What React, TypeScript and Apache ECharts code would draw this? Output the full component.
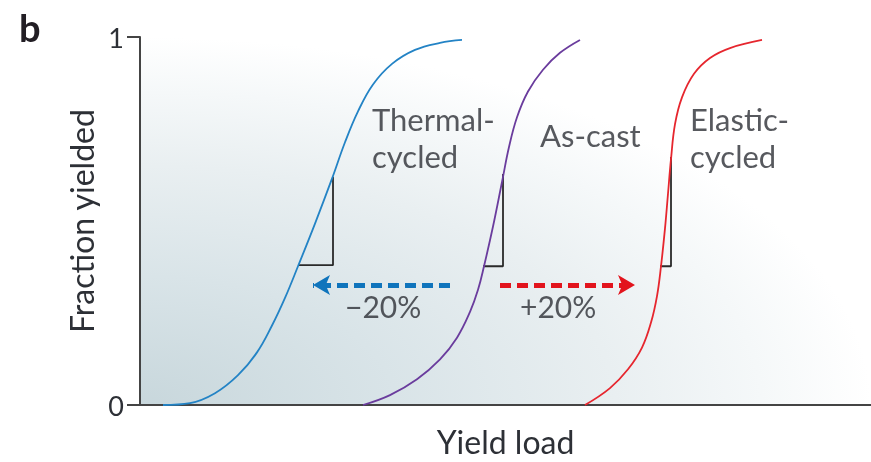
import React, { useEffect, useRef } from "react";
import * as echarts from "echarts";

// x: yield load (arbitrary units), y: fraction yielded (0..1)
const thermalCycled: [number, number][] = [
  [23, 0], [50, 0.005], [75, 0.032], [98, 0.081], [117, 0.143], [132, 0.216],
  [145, 0.291], [158, 0.377], [175, 0.493], [192, 0.615], [205, 0.714],
  [218, 0.798], [233, 0.871], [252, 0.927], [275, 0.965], [300, 0.984], [322, 0.992],
];
const asCast: [number, number][] = [
  [223, 0], [250, 0.027], [277, 0.07], [300, 0.124], [317, 0.183], [330, 0.253],
  [338, 0.313], [344, 0.377], [353, 0.485], [362, 0.606], [369, 0.701],
  [377, 0.782], [388, 0.852], [403, 0.911], [420, 0.957], [440, 0.992],
];
const elasticCycled: [number, number][] = [
  [445, 0], [470, 0.046], [488, 0.097], [502, 0.156], [511, 0.224], [517, 0.296],
  [521, 0.377], [525, 0.48], [528, 0.574], [531, 0.668], [535, 0.763],
  [542, 0.836], [554, 0.9], [570, 0.943], [590, 0.97], [622, 0.992],
];

const slopeThermal: [number, number][] = [[158, 0.38], [193, 0.38], [193, 0.62]];
const slopeAsCast: [number, number][] = [[343, 0.377], [363, 0.377], [363, 0.628]];
const slopeElastic: [number, number][] = [[520, 0.377], [531, 0.377], [531, 0.674]];

const arrowLeft: [number, number][] = [[310, 0.326], [173, 0.326]];
const arrowRight: [number, number][] = [[360, 0.326], [495, 0.326]];

const curveLabels = [
  { name: "Thermal-\ncycled", value: [232, 0.828] },
  { name: "As-cast", value: [400, 0.785] },
  { name: "Elastic-\ncycled", value: [550, 0.828] },
];
const shiftLabels = [
  { name: "\u221220%", value: [205, 0.318] },
  { name: "+20%", value: [380, 0.318] },
];

const xMin = 0;
const xMax = 731;
const yMin = 0;
const yMax = 1;

const FONT = "Lato, 'Open Sans', sans-serif";
const TEXT = "#2d3036";
const AXIS = "#444";
const BLUE = "#2383c5";
const PURPLE = "#6a3c9d";
const RED = "#e6262e";
const ARROW_BLUE = "#0f74bc";
const ARROW_RED = "#e2141d";

export default function App() {
  const ref = useRef<HTMLDivElement>(null);
  useEffect(() => {
    if (!ref.current) return;
    const chart = echarts.init(ref.current, undefined, { renderer: "svg" });
    const curve = (name: string, data: [number, number][], color: string) => ({
      name,
      type: "line",
      data,
      smooth: 0.4,
      showSymbol: false,
      symbol: "none",
      lineStyle: { color, width: 1.8 },
      z: 3,
    });
    const slope = (data: [number, number][]) => ({
      type: "line",
      data,
      showSymbol: false,
      symbol: "none",
      lineStyle: { color: "#2a2a2a", width: 1.8 },
      z: 2,
    });
    const arrow = (data: [number, number][], color: string) => ({
      type: "line",
      data: [],
      markLine: {
        silent: true,
        symbol: ["none", "arrow"],
        symbolSize: [15, 17],
        label: { show: false },
        lineStyle: { color, width: 5, type: [11, 6] },
        emphasis: { disabled: true },
        data: [[{ coord: data[0] }, { coord: data[1] }]],
      },
    });
    const labels = (data: any[], fontSize: number) => ({
      type: "scatter",
      data,
      symbolSize: 0,
      silent: true,
      label: {
        show: true,
        position: [0, 0],
        formatter: "{b}",
        fontFamily: FONT,
        fontSize,
        lineHeight: 37,
        color: TEXT,
        align: "left",
        verticalAlign: "top",
      },
      z: 4,
    });
    chart.setOption({
      animation: false,
      title: {
        text: "b",
        left: 14,
        top: 3,
        textStyle: { fontFamily: FONT, fontSize: 38, fontWeight: "bold", color: "#221e24" },
      },
      grid: {
        left: 140,
        right: 0,
        top: 37,
        bottom: 54,
        show: true,
        borderWidth: 0,
        backgroundColor: new echarts.graphic.RadialGradient(0, 1, 1, [
          { offset: 0, color: "#c8d7dc" },
          { offset: 0.35, color: "#d9e4e8" },
          { offset: 0.65, color: "#e9eff1" },
          { offset: 0.85, color: "#f5f8f9" },
          { offset: 1, color: "#ffffff" },
        ]),
      },
      xAxis: {
        type: "value",
        min: xMin,
        max: xMax,
        name: "Yield load",
        nameLocation: "middle",
        nameGap: 20,
        nameTextStyle: { fontFamily: FONT, fontSize: 32, color: TEXT, verticalAlign: "top" },
        axisLine: { show: true, lineStyle: { color: AXIS, width: 2 } },
        axisTick: { show: false },
        axisLabel: { show: false },
        splitLine: { show: false },
      },
      yAxis: {
        type: "value",
        min: yMin,
        max: yMax,
        interval: 1,
        name: "Fraction yielded",
        nameLocation: "middle",
        nameGap: 40,
        nameTextStyle: { fontFamily: FONT, fontSize: 32, color: TEXT },
        axisLine: { show: true, lineStyle: { color: AXIS, width: 2 } },
        axisTick: { show: true, length: 13, lineStyle: { color: AXIS, width: 2 } },
        axisLabel: { fontFamily: FONT, fontSize: 27, color: TEXT, margin: 16 },
        splitLine: { show: false },
      },
      series: [
        curve("Thermal-cycled", thermalCycled, BLUE),
        curve("As-cast", asCast, PURPLE),
        curve("Elastic-cycled", elasticCycled, RED),
        slope(slopeThermal),
        slope(slopeAsCast),
        slope(slopeElastic),
        arrow(arrowLeft, ARROW_BLUE),
        arrow(arrowRight, ARROW_RED),
        labels(curveLabels, 31),
        labels(shiftLabels, 30),
      ],
    });
    return () => chart.dispose();
  }, []);
  return (
    <div
      ref={ref}
      style={{ position: "fixed", left: 0, top: 0, width: 871, height: 462 }}
    />
  );
}
